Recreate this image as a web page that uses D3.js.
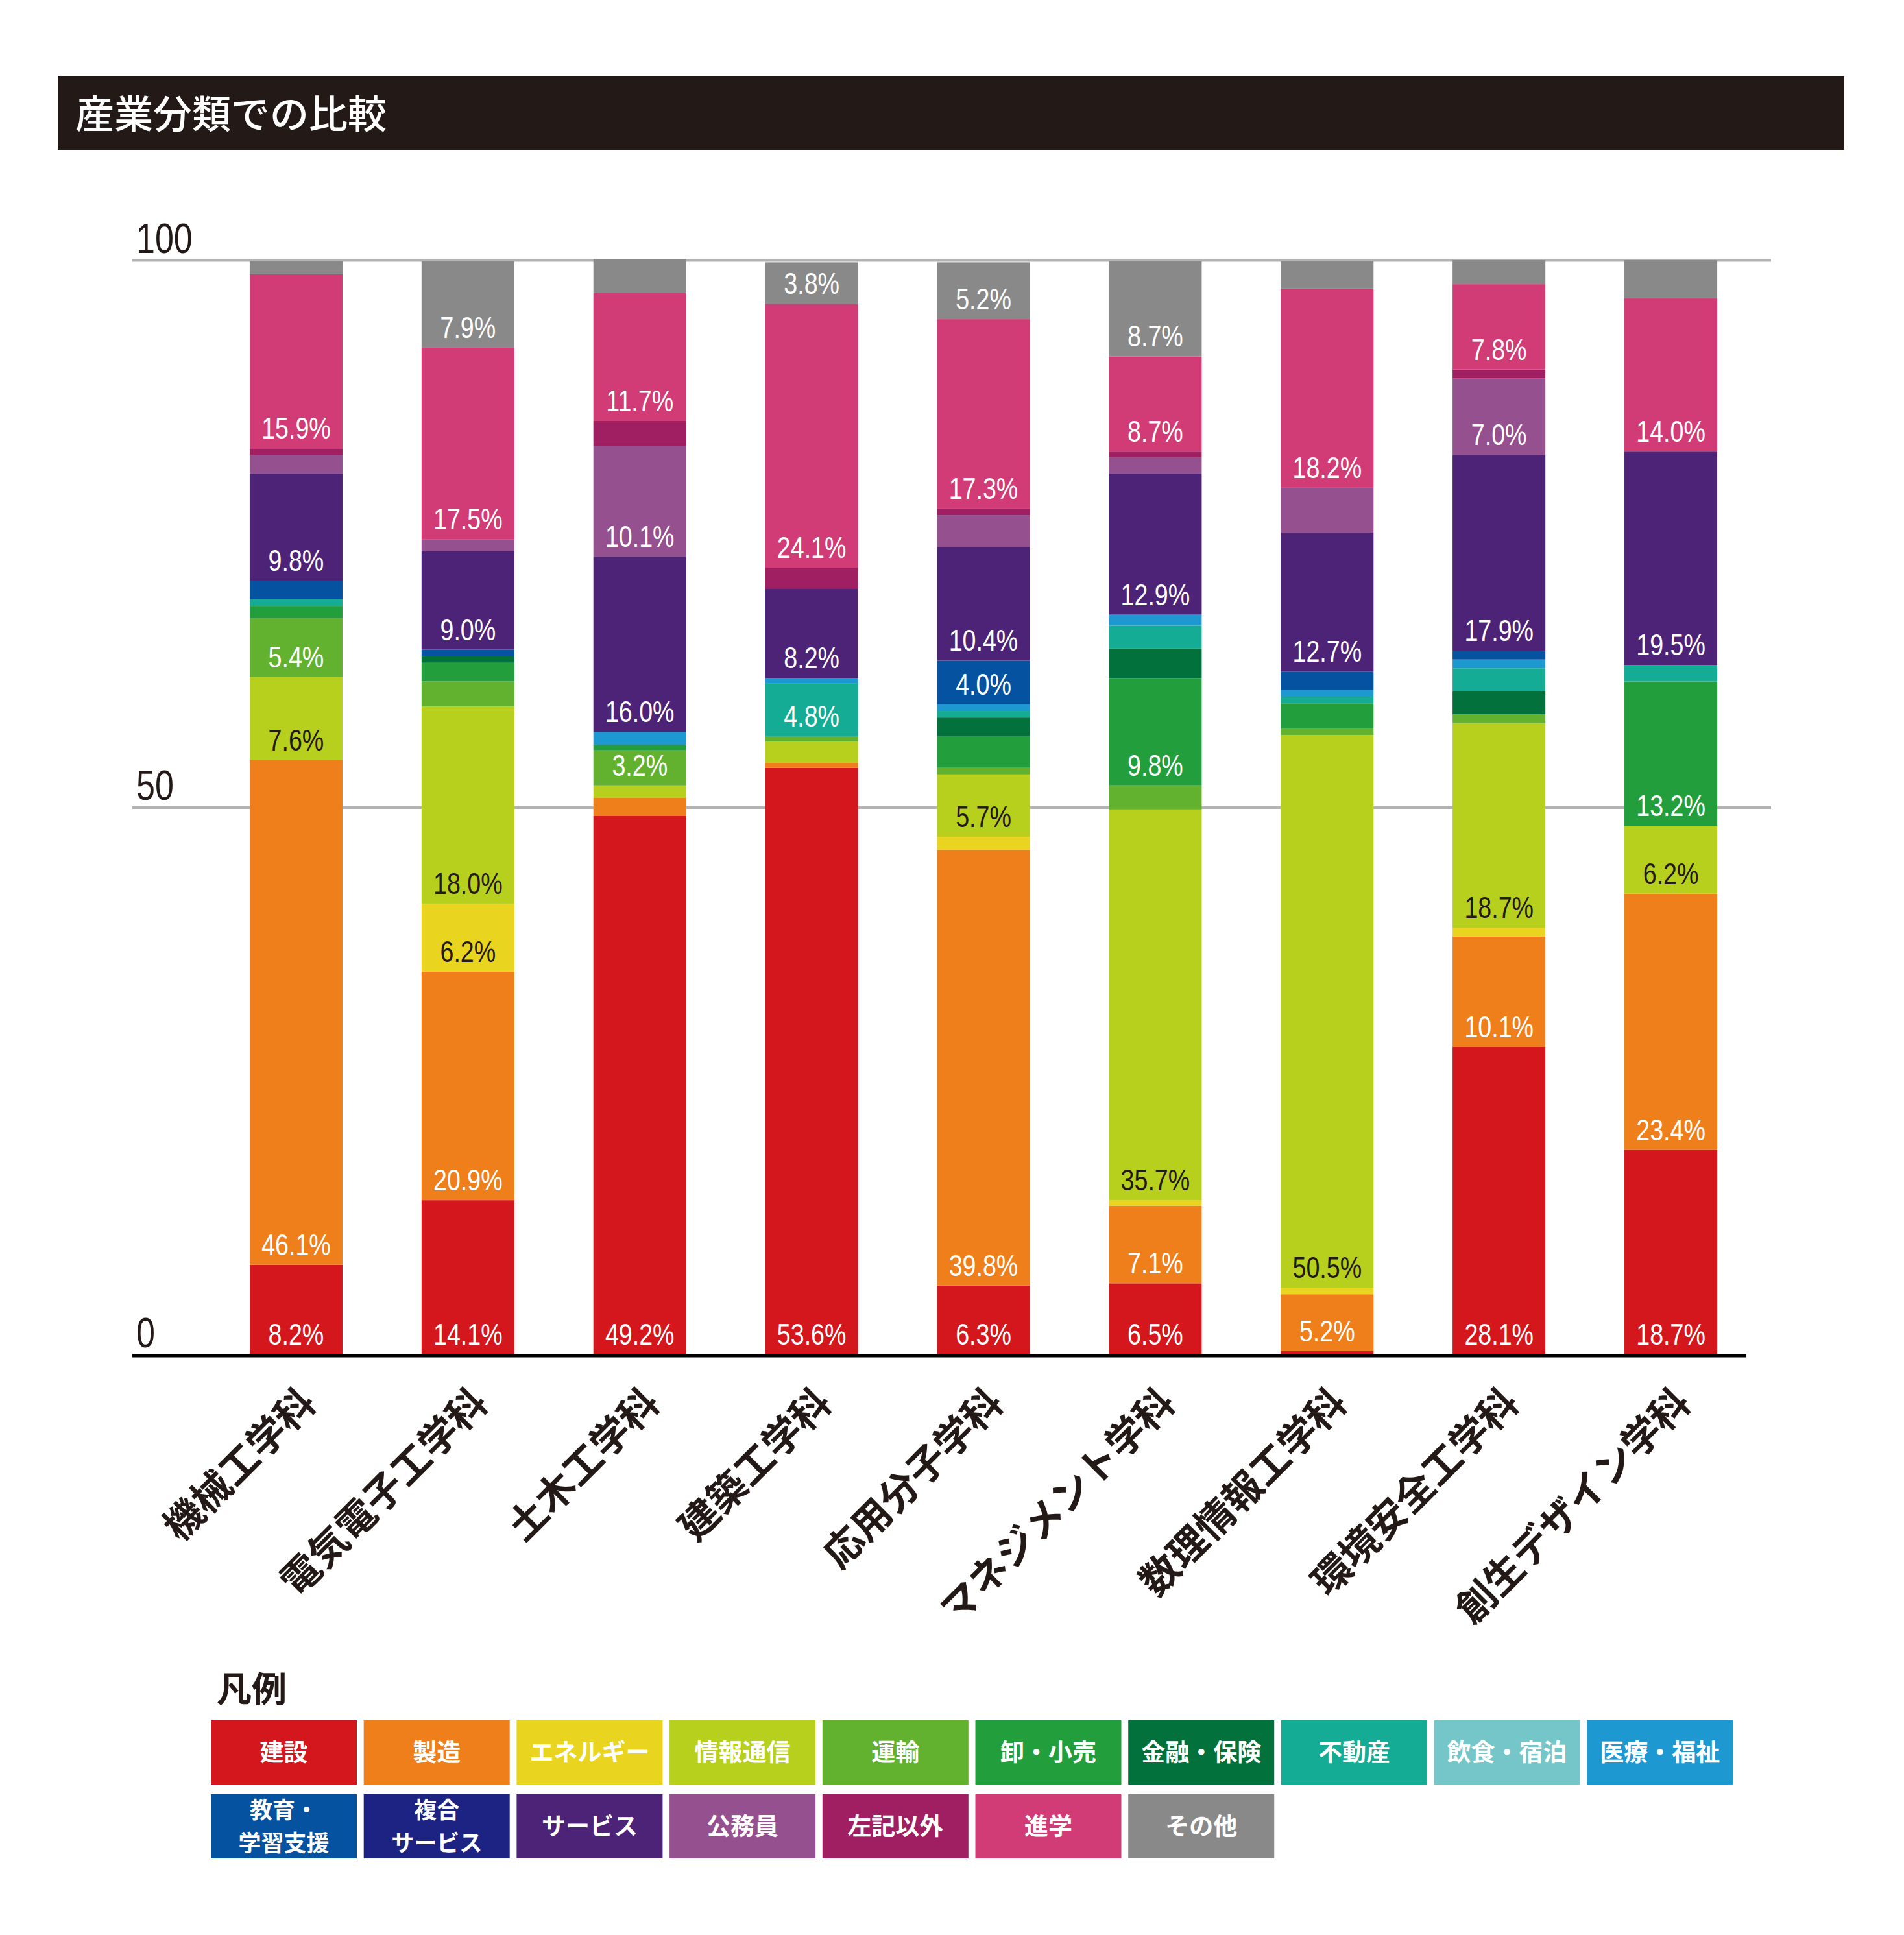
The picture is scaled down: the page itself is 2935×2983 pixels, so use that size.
<!DOCTYPE html>
<html>
<head>
<meta charset="utf-8">
<script src="https://cdn.jsdelivr.net/npm/d3@7/dist/d3.min.js"></script>
<style>
  body { margin: 0; background: #fff; }
  svg  { display: block; }
</style>
</head>
<body>
<svg id="chart" width="2935" height="2983"></svg>
<script>
// ── Data ────────────────────────────────────────────────────────────────
const departments = ["機械工学科", "電気電子工学科", "土木工学科", "建築工学科", "応用分子学科",
  "マネジメント学科", "数理情報工学科", "環境安全工学科", "創生デザイン学科"];

const categories = ["建設", "製造", "エネルギー", "情報通信", "運輸", "卸・小売", "金融・保険",
  "不動産", "飲食・宿泊", "医療・福祉", "教育・学習支援", "複合サービス", "サービス", "公務員",
  "左記以外", "進学", "その他"];

const categoryColors = ["#d4161d", "#ee7f1a", "#e9d41f", "#b7d01e", "#62b22f", "#229f3c", "#03713b",
  "#14ac94", "#74c6c9", "#1e98d0", "#0552a0", "#1d2383", "#4d2378", "#95508f",
  "#9f1f62", "#d13c76", "#898989"];

// percent per department (same order as departments)
const construction   = [8.2, 14.1, 49.2, 53.6, 6.3, 6.5, 0.3, 28.1, 18.7];
const manufacturing  = [46.1, 20.9, 1.7, 0.5, 39.8, 7.1, 5.2, 10.1, 23.4];
const energy         = [0, 6.2, 0, 0, 1.2, 0.5, 0.6, 0.8, 0];
const infoComm       = [7.6, 18.0, 1.1, 1.9, 5.7, 35.7, 50.5, 18.7, 6.2];
const transport      = [5.4, 2.3, 3.2, 0.5, 0.6, 2.2, 0.6, 0.8, 0];
const wholesale      = [1.1, 1.7, 0.5, 0, 2.9, 9.8, 2.3, 0, 13.2];
const finance        = [0, 0.6, 0, 0, 1.7, 2.7, 0, 2.1, 0];
const realEstate     = [0.6, 0, 0, 4.8, 0.6, 2.1, 0.6, 2.1, 1.5];
const hospitality    = [0, 0, 0, 0, 0, 0, 0, 0, 0];
const medical        = [0, 0, 1.2, 0.5, 0.6, 1.0, 0.6, 0.8, 0];
const education      = [1.7, 0.6, 0, 0, 4.0, 0, 1.7, 0.8, 0];
const compound       = [0, 0, 0, 0, 0, 0, 0, 0, 0];
const services       = [9.8, 9.0, 16.0, 8.2, 10.4, 12.9, 12.7, 17.9, 19.5];
const publicService  = [1.7, 1.1, 10.1, 0, 2.9, 1.5, 4.1, 7.0, 0];
const otherIndustry  = [0.6, 0, 2.3, 1.9, 0.6, 0.5, 0, 0.8, 0];
const furtherStudy   = [15.9, 17.5, 11.7, 24.1, 17.3, 8.7, 18.2, 7.8, 14.0];
const other          = [1.2, 7.9, 3.1, 3.8, 5.2, 8.7, 2.5, 2.2, 3.5];

const series = [construction, manufacturing, energy, infoComm, transport, wholesale, finance,
  realEstate, hospitality, medical, education, compound, services, publicService,
  otherIndustry, furtherStudy, other];

const yTicks = [0, 50, 100];

// segments that carry no value label despite their size
const hiddenLabels = [["数理情報工学科", "公務員"], ["創生デザイン学科", "その他"]];

// ── Layout ──────────────────────────────────────────────────────────────
const svg = d3.select("#chart");
const NUM_FONT = "'Liberation Sans', Arial, sans-serif";
const NUM_SQUEEZE = 0.8;   // narrow figures like the print face
const JP_FONT  = "'Noto Sans CJK JP', 'Noto Sans', sans-serif";

const gridLeft = 204, gridRight = 2730, axisRight = 2692;

const x = d3.scaleBand()
  .domain(departments)
  .range([324, 2708])
  .paddingInner(0.46).paddingOuter(0.23);

const y = d3.scaleLinear().domain([0, 100]).range([2088, 401]);

const color = d3.scaleOrdinal().domain(categories).range(categoryColors);

// ── Title bar ───────────────────────────────────────────────────────────
svg.append("rect")
  .attr("x", 89).attr("y", 117).attr("width", 2754).attr("height", 114)
  .attr("fill", "#231916");

svg.append("text")
  .attr("x", 116).attr("y", 171)
  .attr("dominant-baseline", "central")
  .attr("fill", "#fff").attr("font-family", JP_FONT)
  .attr("font-size", "60px").attr("font-weight", 500)
  .text("産業分類での比較");

// ── Grid + tick labels ──────────────────────────────────────────────────
svg.append("g")
  .attr("transform", `translate(${gridLeft},0)`)
  .call(d3.axisRight(y).tickValues(yTicks).tickSize(gridRight - gridLeft).tickFormat(d3.format("d")))
  .call(ax => ax.select(".domain").remove())
  .call(ax => ax.selectAll("line")
    .attr("stroke", "#b3b3b3").attr("stroke-width", 4)
    .attr("opacity", d => d === 0 ? 0 : 1))
  .call(ax => ax.selectAll("text")
    .attr("x", 0).attr("dy", 0)
    .attr("transform", `translate(6,-12) scale(${NUM_SQUEEZE},1)`)
    .attr("text-anchor", "start")
    .attr("fill", "#231916")
    .attr("font-family", NUM_FONT).attr("font-size", "65px"));

// ── Stacked bars ────────────────────────────────────────────────────────
const rows = departments.map((dept, i) => {
  const row = { dept };
  categories.forEach((c, k) => { row[c] = series[k][i]; });
  return row;
});

const stacked = d3.stack().keys(categories)(rows);

const layers = svg.append("g").selectAll("g.layer")
  .data(stacked).join("g")
  .attr("class", "layer")
  .attr("fill", d => color(d.key));

layers.selectAll("rect")
  .data(d => d.filter(s => s[1] - s[0] > 0))
  .join("rect")
  .attr("x", d => x(d.data.dept))
  .attr("y", d => y(d[1]))
  .attr("width", x.bandwidth())
  .attr("height", d => y(d[0]) - y(d[1]));

// value labels
const isHidden = (dept, key) => hiddenLabels.some(([d, k]) => d === dept && k === key);
const darkText = new Set(["エネルギー", "情報通信"]);

stacked.forEach(layer => {
  const shown = layer.filter(s => (s[1] - s[0]) >= 3.2 && !isHidden(s.data.dept, layer.key));
  svg.append("g").selectAll("text")
    .data(shown).join("text")
    .attr("transform", d =>
      `translate(${x(d.data.dept) + x.bandwidth() / 2},${y(d[0]) - 15}) scale(${NUM_SQUEEZE},1)`)
    .attr("text-anchor", "middle")
    .attr("fill", darkText.has(layer.key) ? "#231916" : "#fff")
    .attr("font-family", NUM_FONT).attr("font-size", "47px")
    .text(d => d3.format(".1f")(d[1] - d[0]) + "%");
});

// zero axis
svg.append("line")
  .attr("x1", gridLeft).attr("x2", axisRight)
  .attr("y1", y(0) + 2).attr("y2", y(0) + 2)
  .attr("stroke", "#000").attr("stroke-width", 5);

// department labels
svg.append("g").selectAll("text")
  .data(departments).join("text")
  .attr("transform", d => `translate(${x(d) + x.bandwidth() / 2 + 15},${y(0) + 60}) rotate(-45)`)
  .attr("text-anchor", "end")
  .attr("dominant-baseline", "central")
  .attr("fill", "#231916")
  .attr("font-family", JP_FONT).attr("font-size", "60px").attr("font-weight", 700)
  .text(d => d);

// ── Legend ──────────────────────────────────────────────────────────────
svg.append("text")
  .attr("x", 334).attr("y", 2600)
  .attr("dominant-baseline", "central")
  .attr("fill", "#231916")
  .attr("font-family", JP_FONT).attr("font-size", "54px").attr("font-weight", 700)
  .text("凡例");

const legendBreaks = { "教育・学習支援": ["教育・", "学習支援"], "複合サービス": ["複合", "サービス"] };
const legX = 325, legY = 2652, legStep = 235.7, legRowStep = 114, legW = 225, legH = 99;

const leg = svg.append("g").selectAll("g")
  .data(categories).join("g")
  .attr("transform", (d, i) => `translate(${legX + (i % 10) * legStep},${legY + Math.floor(i / 10) * legRowStep})`);

leg.append("rect")
  .attr("width", legW).attr("height", legH)
  .attr("fill", d => color(d));

leg.each(function (d) {
  const lines = legendBreaks[d] || [d];
  const size = lines.length > 1 ? 35 : 37;
  const t = d3.select(this).append("text")
    .attr("text-anchor", "middle")
    .attr("fill", "#fff")
    .attr("font-family", JP_FONT).attr("font-size", `${size}px`).attr("font-weight", 700);
  lines.forEach((line, j) => {
    t.append("tspan")
      .attr("x", legW / 2)
      .attr("y", legH / 2 + (j - (lines.length - 1) / 2) * 51 + size * 0.36)
      .text(line);
  });
});
</script>
</body>
</html>
